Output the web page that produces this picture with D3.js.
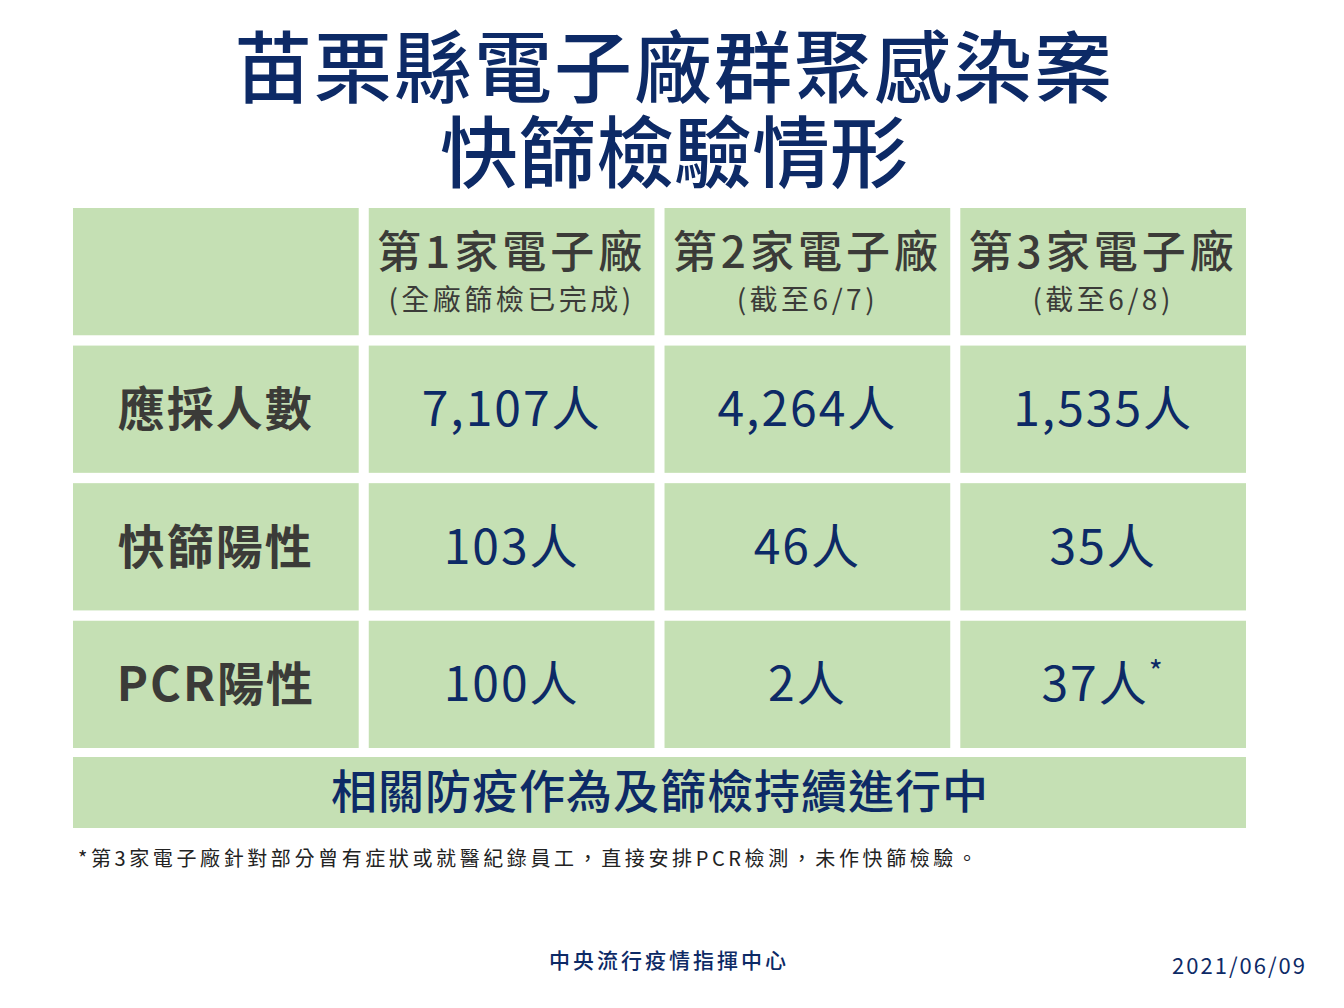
<!DOCTYPE html>
<html><head><meta charset="utf-8">
<script src="https://cdn.jsdelivr.net/npm/d3@7"></script>
<style>body{margin:0;background:#fff}</style>
</head><body>
<svg width="1344" height="1008"></svg>
<script>
var titleLines = ["苗栗縣電子廠群聚感染案", "快篩檢驗情形"]
var factories = ["第1家電子廠", "第2家電子廠", "第3家電子廠"]
var subHeads = ["(全廠篩檢已完成)", "(截至6/7)", "(截至6/8)"]
var rowLabels = ["應採人數", "快篩陽性", "PCR陽性"]
var values = [
  ["7,107人", "4,264人", "1,535人"],
  ["103人", "46人", "35人"],
  ["100人", "2人", "37人"]
]
var marks = [["", "", ""], ["", "", ""], ["", "", "*"]]
var footerRow = "相關防疫作為及篩檢持續進行中"
var footnote = "*第3家電子廠針對部分曾有症狀或就醫紀錄員工，直接安排PCR檢測，未作快篩檢驗。"
var source = "中央流行疫情指揮中心"
var dateText = "2021/06/09"

var font = "'Noto Sans CJK TC', 'Noto Sans', sans-serif"
var navy = "#0d2a66", green = "#c5e0b4", gray = "#3b3b38"
var svg = d3.select("svg").style("font-family", font)

svg.selectAll(".title").data(titleLines).enter().append("text")
  .attr("x", 674).attr("y", function(d, i){ return 97 + i * 85 })
  .attr("text-anchor", "middle").attr("font-size", 78).attr("font-weight", 500)
  .attr("letter-spacing", function(d, i){ return i == 0 ? 2 : 0 })
  .attr("fill", navy).text(function(d){ return d })

var x = d3.scaleBand().domain(d3.range(4)).range([73, 1246]).paddingInner(0.034)
var y = d3.scaleBand().domain(d3.range(4)).range([208, 748]).paddingInner(0.075)

var g = svg.append("g")
d3.range(4).forEach(function(r){
  d3.range(4).forEach(function(c){
    g.append("rect").attr("x", x(c)).attr("y", y(r))
      .attr("width", x.bandwidth()).attr("height", y.bandwidth()).attr("fill", green)
  })
})
g.append("rect").attr("x", x(0)).attr("y", 757)
  .attr("width", x(3) + x.bandwidth() - x(0)).attr("height", 71).attr("fill", green)

var cx = function(c){ return x(c) + x.bandwidth() / 2 }
factories.forEach(function(f, i){
  g.append("text").attr("x", cx(i + 1)).attr("y", y(0) + 60).attr("text-anchor", "middle")
    .attr("font-size", 44).attr("font-weight", 500).attr("letter-spacing", 4).attr("fill", gray).text(f)
  g.append("text").attr("x", cx(i + 1)).attr("y", y(0) + 102).attr("text-anchor", "middle")
    .attr("font-size", 28).attr("letter-spacing", 3.5).attr("fill", gray).text(subHeads[i])
})
rowLabels.forEach(function(l, r){
  var yy = y(r + 1) + y.bandwidth() / 2 + 17
  g.append("text").attr("x", cx(0)).attr("y", yy).attr("text-anchor", "middle")
    .attr("font-size", 47).attr("font-weight", 700).attr("fill", gray).attr("letter-spacing", 2).text(l)
  values[r].forEach(function(v, c){
    var t = g.append("text").attr("x", cx(c + 1)).attr("y", yy).attr("text-anchor", "middle")
      .attr("font-size", 48).attr("font-weight", 400).attr("fill", navy).attr("letter-spacing", 2).text(v)
    if (marks[r][c]) t.append("tspan").attr("font-size", 30).attr("dy", -18).text(marks[r][c])
  })
})
g.append("text").attr("x", 660).attr("y", 808).attr("text-anchor", "middle")
  .attr("font-size", 46).attr("font-weight", 500).attr("fill", navy).attr("letter-spacing", 1).text(footerRow)

svg.append("text").attr("x", 78).attr("y", 866).attr("font-size", 20).attr("letter-spacing", 3.6)
  .attr("fill", "#222").text(footnote)
svg.append("text").attr("x", 669).attr("y", 968).attr("text-anchor", "middle").attr("letter-spacing", 3)
  .attr("font-size", 21).attr("font-weight", 500).attr("fill", navy).text(source)
svg.append("text").attr("x", 1307).attr("y", 974).attr("text-anchor", "end").attr("letter-spacing", 2)
  .attr("font-size", 22).attr("fill", navy).text(dateText)
</script>
</body></html>
